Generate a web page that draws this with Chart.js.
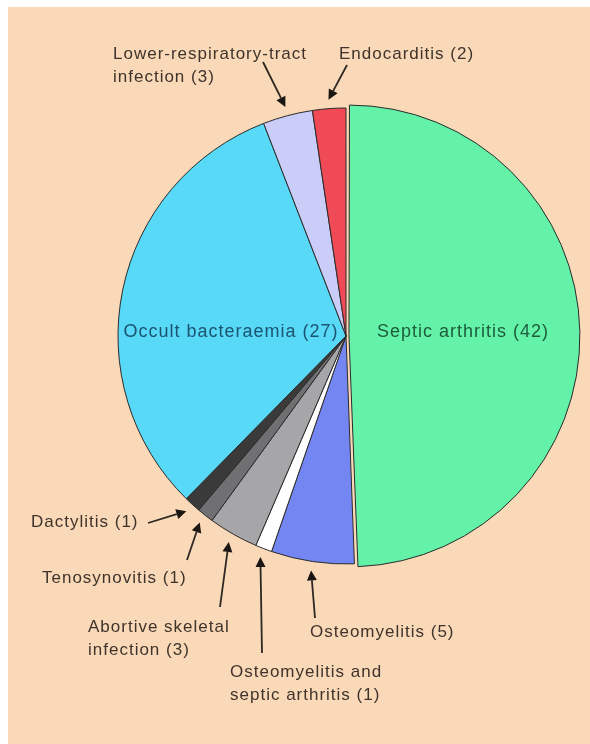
<!DOCTYPE html>
<html>
<head>
<meta charset="utf-8">
<script src="https://cdn.jsdelivr.net/npm/chart.js@4"></script>
<style>
  html, body { margin: 0; padding: 0; background: #fff; }
  canvas { display: block; }
</style>
</head>
<body>
<canvas id="myChart" width="590" height="744"></canvas>
<script>
// data, clockwise from 12 o'clock
const categories = ['Septic arthritis', 'Osteomyelitis', 'Osteomyelitis and septic arthritis',
  'Abortive skeletal infection', 'Tenosynovitis', 'Dactylitis', 'Occult bacteraemia',
  'Lower-respiratory-tract infection', 'Endocarditis'];
const counts = [42, 5, 1, 3, 1, 1, 27, 3, 2];
const labelLines = [
  ['Septic arthritis (42)'],
  ['Osteomyelitis (5)'],
  ['Osteomyelitis and', 'septic arthritis (1)'],
  ['Abortive skeletal', 'infection (3)'],
  ['Tenosynovitis (1)'],
  ['Dactylitis (1)'],
  ['Occult bacteraemia (27)'],
  ['Lower-respiratory-tract', 'infection (3)'],
  ['Endocarditis (2)']
];

// styling
const sliceColors = ['#63f2a8', '#7486f1', '#ffffff', '#a6a6a9', '#707072', '#3a3a3b',
  '#58d9f7', '#c9cdf7', '#ef4a55'];
// chart.js moves an offset slice by roughly offset/2 px
const sliceOffsets = [12, 0, 0, 0, 0, 0, 0, 0, 0];
// where each label sits; tail = start of its arrow
const labelPlace = [
  { x: 463, y: 337, align: 'center', color: '#1d5c3c', size: 18 },
  { x: 310, y: 637, tail: [315, 618] },
  { x: 230, y: 677, tail: [262, 653] },
  { x: 88, y: 632, tail: [220, 607] },
  { x: 42, y: 583, tail: [187, 560] },
  { x: 31, y: 527, tail: [148, 523] },
  { x: 231, y: 337, align: 'center', color: '#1b5470', size: 18 },
  { x: 113, y: 59, tail: [263, 62] },
  { x: 339, y: 59, tail: [347, 65] }
];

const backdrop = {
  id: 'backdrop',
  beforeDraw(chart) {
    const ctx = chart.ctx;
    ctx.save();
    ctx.fillStyle = '#ffffff';
    ctx.fillRect(0, 0, chart.width, chart.height);
    ctx.fillStyle = '#f9d9b7';
    ctx.fillRect(8, 7, chart.width - 8, chart.height - 7);
    ctx.restore();
  }
};

function drawArrow(ctx, x0, y0, x1, y1) {
  const a = Math.atan2(y1 - y0, x1 - x0);
  const len = 10, half = 5;
  const bx = x1 - Math.cos(a) * len, by = y1 - Math.sin(a) * len;
  ctx.beginPath();
  ctx.moveTo(x0, y0);
  ctx.lineTo(bx, by);
  ctx.stroke();
  ctx.beginPath();
  ctx.moveTo(x1, y1);
  ctx.lineTo(bx - Math.sin(a) * half, by + Math.cos(a) * half);
  ctx.lineTo(bx + Math.sin(a) * half, by - Math.cos(a) * half);
  ctx.closePath();
  ctx.fill();
}

const sliceLabels = {
  id: 'sliceLabels',
  afterDatasetsDraw(chart) {
    const ctx = chart.ctx;
    const arcs = chart.getDatasetMeta(0).data;
    ctx.save();
    labelPlace.forEach((p, i) => {
      ctx.font = (p.size || 17) + 'px "Liberation Sans", Arial, sans-serif';
      ctx.letterSpacing = '1px';
      ctx.fillStyle = p.color || '#3f332c';
      ctx.textAlign = p.align || 'left';
      ctx.textBaseline = 'alphabetic';
      labelLines[i].forEach((line, k) => ctx.fillText(line, p.x, p.y + k * 23));
      if (p.tail) {
        const arc = arcs[i];
        const mid = (arc.startAngle + arc.endAngle) / 2;
        const r = arc.outerRadius + 9;
        ctx.strokeStyle = '#2e2824';
        ctx.fillStyle = '#1a1614';
        ctx.lineWidth = 1.8;
        drawArrow(ctx, p.tail[0], p.tail[1], arc.x + Math.cos(mid) * r, arc.y + Math.sin(mid) * r);
      }
    });
    ctx.restore();
  }
};

new Chart(document.getElementById('myChart').getContext('2d'), {
  type: 'pie',
  data: {
    labels: categories,
    datasets: [{
      data: counts,
      backgroundColor: sliceColors,
      offset: sliceOffsets,
      borderColor: '#2c2c2c',
      borderWidth: 1
    }]
  },
  options: {
    responsive: false,
    animation: false,
    radius: 228,
    layout: { padding: { left: 110, right: 8, top: 100, bottom: 172 } },
    plugins: {
      legend: { display: false },
      tooltip: { enabled: false }
    }
  },
  plugins: [backdrop, sliceLabels]
});
</script>
</body>
</html>
